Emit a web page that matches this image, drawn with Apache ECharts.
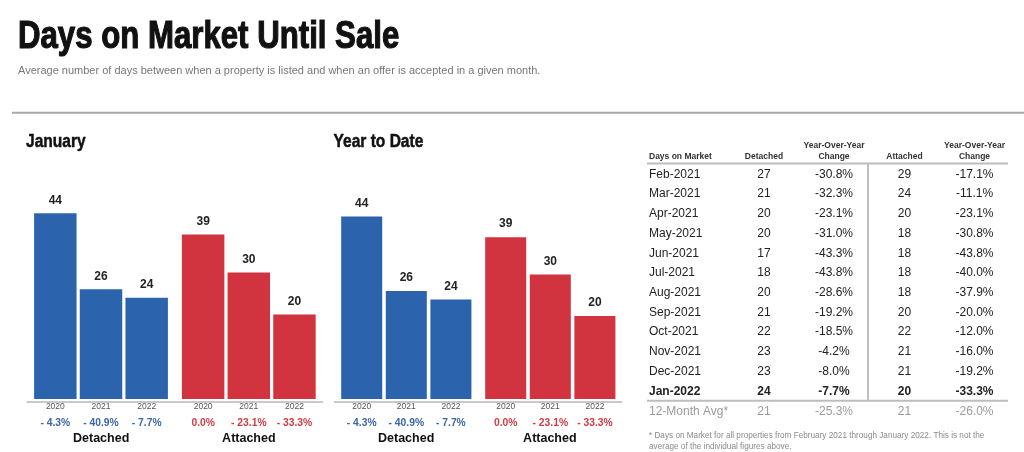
<!DOCTYPE html>
<html>
<head>
<meta charset="utf-8">
<script src="https://cdn.jsdelivr.net/npm/echarts@6/dist/echarts.min.js"></script>
<style>
  html, body { margin: 0; padding: 0; background: #fff; }
  #chart { width: 1024px; height: 452px; }
</style>
</head>
<body>
<div id="chart"></div>
<script>
// bar panels
var years = ['2020', '2021', '2022'];
var groups = ['Detached', 'Attached'];
var janDetached = [44, 26, 24];
var janDetachedChange = ['- 4.3%', '- 40.9%', '- 7.7%'];
var janAttached = [39, 30, 20];
var janAttachedChange = ['0.0%', '- 23.1%', '- 33.3%'];
var ytdDetached = [44, 26, 24];
var ytdDetachedChange = ['- 4.3%', '- 40.9%', '- 7.7%'];
var ytdAttached = [39, 30, 20];
var ytdAttachedChange = ['0.0%', '- 23.1%', '- 33.3%'];

// monthly table
var tableHeaders = ['Days on Market', 'Detached', 'Year-Over-Year\nChange', 'Attached', 'Year-Over-Year\nChange'];
var tableMonths = ['Feb-2021', 'Mar-2021', 'Apr-2021', 'May-2021', 'Jun-2021', 'Jul-2021',
  'Aug-2021', 'Sep-2021', 'Oct-2021', 'Nov-2021', 'Dec-2021', 'Jan-2022'];
var tableDetached = [27, 21, 20, 20, 17, 18, 20, 21, 22, 23, 23, 24];
var tableDetachedChange = ['-30.8%', '-32.3%', '-23.1%', '-31.0%', '-43.3%', '-43.8%',
  '-28.6%', '-19.2%', '-18.5%', '-4.2%', '-8.0%', '-7.7%'];
var tableAttached = [29, 24, 20, 18, 18, 18, 18, 20, 22, 21, 21, 20];
var tableAttachedChange = ['-17.1%', '-11.1%', '-23.1%', '-30.8%', '-43.8%', '-40.0%',
  '-37.9%', '-20.0%', '-12.0%', '-16.0%', '-19.2%', '-33.3%'];
var avgRow = ['12-Month Avg*', 21, '-25.3%', 21, '-26.0%'];
var footnote = ['* Days on Market for all properties from February 2021 through January 2022. This is not the',
  'average of the individual figures above.'];

var SANS = "'Liberation Sans', Arial, sans-serif";
var BLUE = '#2c63ad';
var RED = '#d1343e';

var chart = echarts.init(document.getElementById('chart'));

var grids = [], xAxes = [], yAxes = [], series = [];

function addPanel(p) {
  // shared axis with the two group names
  var gi = grids.length;
  grids.push({ left: p.axisLeft, width: p.axisWidth, top: p.top, bottom: 50.5 });
  xAxes.push({
    gridIndex: gi, type: 'category', data: groups,
    axisLine: { lineStyle: { color: '#b8b8b8', width: 1.5 } },
    axisTick: { length: 4, lineStyle: { color: '#b8b8b8', width: 1.5 } },
    axisLabel: { margin: 31, fontSize: 12.5, fontWeight: 'bold', color: '#111', fontFamily: SANS }
  });
  yAxes.push({ gridIndex: gi, type: 'value', show: false });

  p.parts.forEach(function (part) {
    var i = grids.length;
    grids.push({ left: part.left, width: part.width, top: p.top, bottom: 53 });
    xAxes.push({
      gridIndex: i, type: 'category', data: years,
      axisLine: { show: false }, axisTick: { show: false },
      axisLabel: {
        interval: 0, margin: 0,
        formatter: function (v, idx) { return '{y|' + v + '}\n{p|' + part.change[idx] + '}'; },
        rich: {
          y: { fontSize: 8.5, color: '#555', lineHeight: 16, fontFamily: SANS },
          p: { fontSize: 10.3, fontWeight: 'bold', color: part.textColor, lineHeight: 16, fontFamily: SANS }
        }
      }
    });
    yAxes.push({ gridIndex: i, type: 'value', min: 0, max: 50, show: false });
    series.push({
      type: 'bar', xAxisIndex: i, yAxisIndex: i, data: part.values,
      barCategoryGap: p.gap,
      itemStyle: { color: part.color },
      label: { show: true, position: 'top', distance: 7, fontSize: 12, fontWeight: 'bold', color: '#222', fontFamily: SANS },
      silent: true
    });
  });
}

addPanel({
  axisLeft: 27.3, axisWidth: 295.4, top: 188, gap: '7%',
  parts: [
    { left: 32.5, width: 137, values: janDetached, change: janDetachedChange, color: BLUE, textColor: '#3a66aa' },
    { left: 180.3, width: 137, values: janAttached, change: janAttachedChange, color: RED, textColor: '#d13a42' }
  ]
});
addPanel({
  axisLeft: 334.3, axisWidth: 287.4, top: 191.5, gap: '8%',
  parts: [
    { left: 339.4, width: 133.8, values: ytdDetached, change: ytdDetachedChange, color: BLUE, textColor: '#3a66aa' },
    { left: 483.4, width: 133.8, values: ytdAttached, change: ytdAttachedChange, color: RED, textColor: '#d13a42' }
  ]
});

function txt(x, y, text, size, opts) {
  opts = opts || {};
  var style = {
    text: text,
    fontSize: size,
    fontWeight: opts.bold ? 'bold' : 'normal',
    fontFamily: SANS,
    fill: opts.color || '#222',
    align: opts.align || 'left', textAlign: opts.align || 'left',
    verticalAlign: 'middle', textVerticalAlign: 'middle',
    lineHeight: opts.lineHeight
  };
  if (opts.heavy) {
    style.stroke = opts.color || '#222';
    style.lineWidth = opts.heavy;
  }
  return { type: 'text', x: x, y: y, silent: true, scaleX: opts.scaleX || 1, style: style };
}
function hline(x1, x2, y, color, w) {
  return { type: 'line', silent: true, shape: { x1: x1, y1: y, x2: x2, y2: y }, style: { stroke: color, lineWidth: w } };
}

// condensed headings: bold sans squeezed horizontally
var graphics = [
  txt(18, 37.4, 'Days on Market Until Sale', 38.5, { bold: true, color: '#111', scaleX: 0.81, heavy: 1.2 }),
  txt(18, 70.5, 'Average number of days between when a property is listed and when an offer is accepted in a given month.', 11, { color: '#777' }),
  hline(12, 1024, 112.7, '#a8a8a8', 2),
  txt(26, 141.5, 'January', 18.5, { bold: true, color: '#111', scaleX: 0.84, heavy: 0.5 }),
  txt(333.5, 141.5, 'Year to Date', 18.5, { bold: true, color: '#111', scaleX: 0.84, heavy: 0.5 })
];

// table
var colX = [649, 764, 834, 904.5, 974.5];
var colAlign = ['left', 'center', 'center', 'center', 'center'];
tableHeaders.forEach(function (h, c) {
  var twoLines = h.indexOf('\n') >= 0;
  graphics.push(txt(colX[c], twoLines ? 151 : 156.5, h, 8.5, { bold: true, align: colAlign[c], color: '#333', lineHeight: 10.7 }));
});
graphics.push(hline(647, 1008, 163.6, '#bdbdbd', 2));
graphics.push({ type: 'line', silent: true, shape: { x1: 868, y1: 164, x2: 868, y2: 400 }, style: { stroke: '#a8a8a8', lineWidth: 1.5 } });

var rowTop = 174.3, rowStep = 19.73;
tableMonths.forEach(function (m, r) {
  var row = [m, tableDetached[r], tableDetachedChange[r], tableAttached[r], tableAttachedChange[r]];
  var last = r === tableMonths.length - 1;
  row.forEach(function (v, c) {
    graphics.push(txt(colX[c], rowTop + r * rowStep, String(v), 12, { align: colAlign[c], bold: last, color: '#222' }));
  });
});
graphics.push(hline(647, 1008, 400.7, '#bdbdbd', 2));
avgRow.forEach(function (v, c) {
  graphics.push(txt(colX[c], 411.7, String(v), 12, { align: colAlign[c], color: '#9a9a9a' }));
});
footnote.forEach(function (line, i) {
  graphics.push(txt(649, 435.3 + i * 11.4, line, 8.2, { color: '#8a8a8a' }));
});

chart.setOption({
  animation: false,
  grid: grids,
  xAxis: xAxes,
  yAxis: yAxes,
  series: series,
  graphic: { elements: graphics }
});
</script>
</body>
</html>
